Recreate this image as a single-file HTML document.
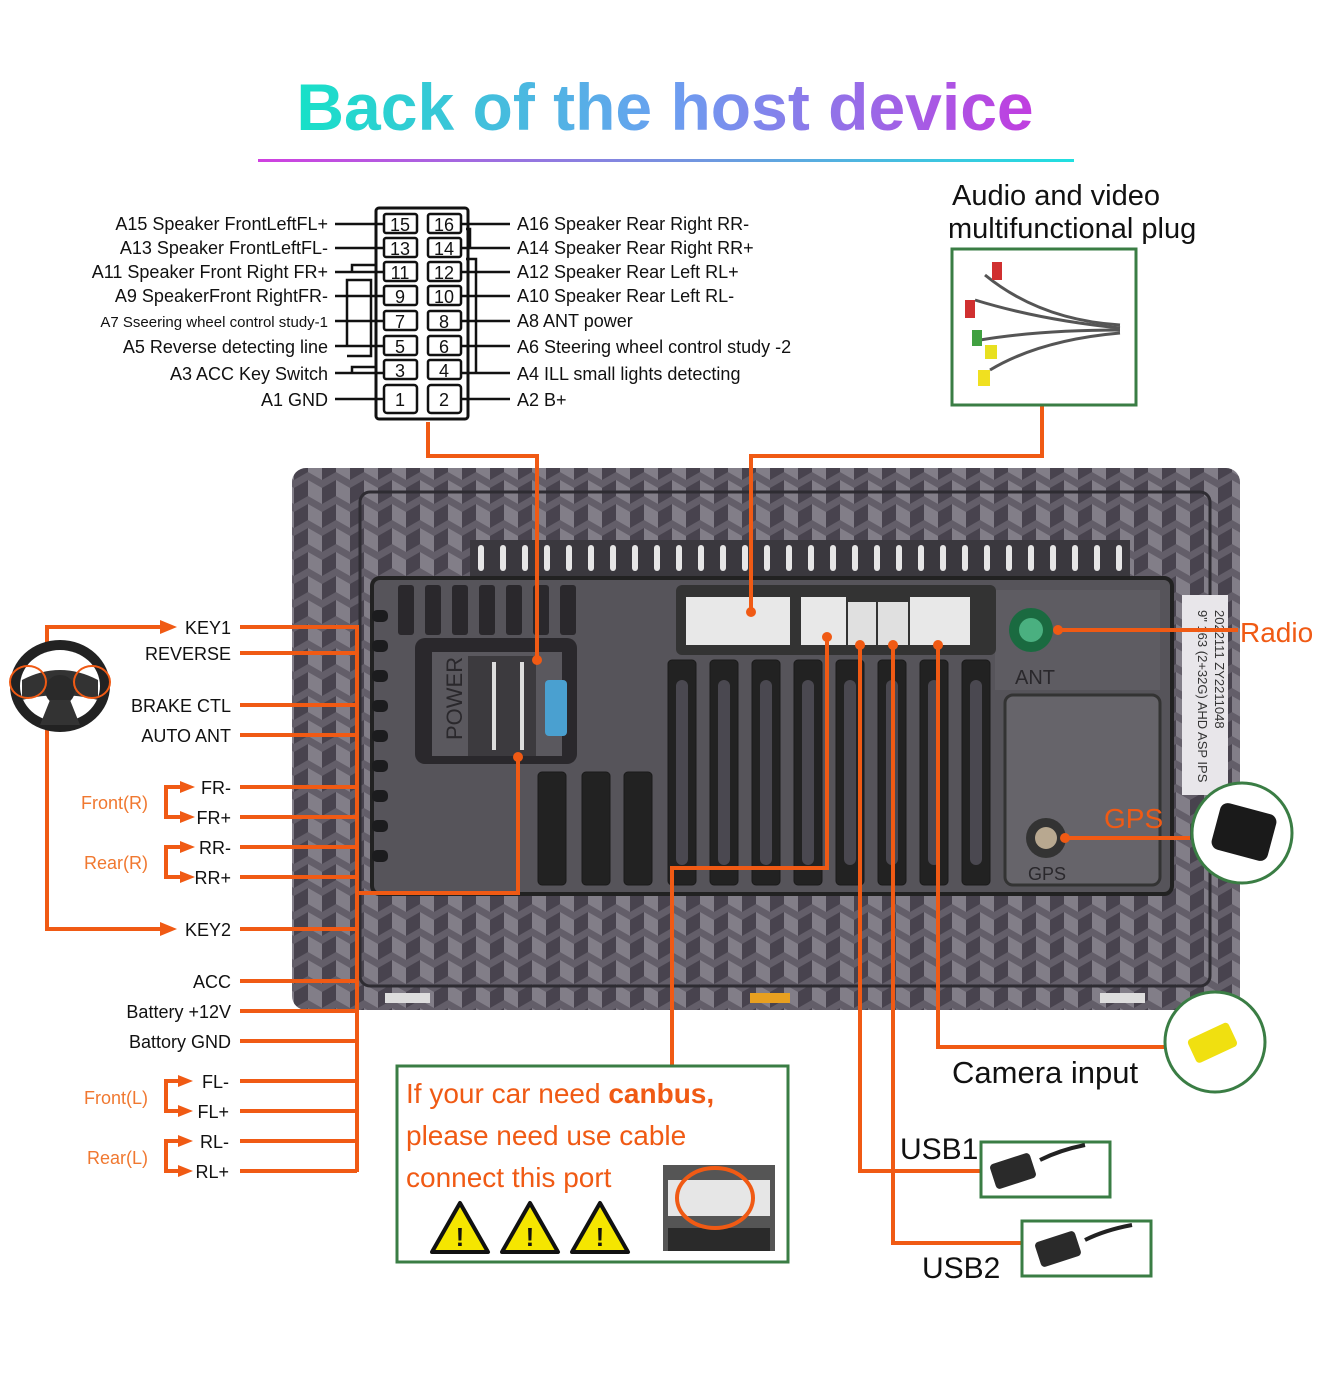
<!DOCTYPE html>
<html><head><meta charset="utf-8"><style>
html,body{margin:0;padding:0;background:#fff;}
svg{display:block;}
text{font-family:"Liberation Sans","DejaVu Sans",sans-serif;}
</style></head><body>
<svg width="1332" height="1374" viewBox="0 0 1332 1374" xmlns="http://www.w3.org/2000/svg">
<defs>
<linearGradient id="tg" x1="300" y1="0" x2="1030" y2="0" gradientUnits="userSpaceOnUse">
<stop offset="0" stop-color="#18e0c8"/><stop offset="0.5" stop-color="#6aa0f0"/><stop offset="1" stop-color="#c03ee0"/></linearGradient>
<linearGradient id="ul" x1="258" y1="0" x2="1074" y2="0" gradientUnits="userSpaceOnUse">
<stop offset="0" stop-color="#d040e0"/><stop offset="1" stop-color="#20e0e0"/></linearGradient>
<pattern id="cube" width="28" height="24" patternUnits="userSpaceOnUse">
<rect width="28" height="24" fill="#6a6670"/>
<path d="M0 0 L14 8 L14 24 L0 16Z" fill="#8f8b95"/>
<path d="M14 8 L28 0 L28 16 L14 24Z" fill="#4a4650"/>
</pattern>
</defs>

<text x="665" y="130" text-anchor="middle" font-size="66" font-weight="bold" fill="url(#tg)">Back of the host device</text>
<rect x="258" y="159" width="816" height="3" fill="url(#ul)"/>

<rect x="292" y="468" width="948" height="542" rx="14" fill="url(#cube)"/>
<rect x="292" y="468" width="948" height="542" rx="14" fill="#3a3640" opacity="0.15"/>
<rect x="360" y="492" width="850" height="494" rx="10" fill="none" stroke="#2e2c32" stroke-width="3"/>
<rect x="470" y="540" width="660" height="36" fill="#3a383e"/>
<g fill="#e6e6e6">
<rect x="478" y="545" width="6" height="26" rx="3"/><rect x="500" y="545" width="6" height="26" rx="3"/><rect x="522" y="545" width="6" height="26" rx="3"/><rect x="544" y="545" width="6" height="26" rx="3"/><rect x="566" y="545" width="6" height="26" rx="3"/><rect x="588" y="545" width="6" height="26" rx="3"/><rect x="610" y="545" width="6" height="26" rx="3"/><rect x="632" y="545" width="6" height="26" rx="3"/><rect x="654" y="545" width="6" height="26" rx="3"/><rect x="676" y="545" width="6" height="26" rx="3"/><rect x="698" y="545" width="6" height="26" rx="3"/><rect x="720" y="545" width="6" height="26" rx="3"/><rect x="742" y="545" width="6" height="26" rx="3"/><rect x="764" y="545" width="6" height="26" rx="3"/><rect x="786" y="545" width="6" height="26" rx="3"/><rect x="808" y="545" width="6" height="26" rx="3"/><rect x="830" y="545" width="6" height="26" rx="3"/><rect x="852" y="545" width="6" height="26" rx="3"/><rect x="874" y="545" width="6" height="26" rx="3"/><rect x="896" y="545" width="6" height="26" rx="3"/><rect x="918" y="545" width="6" height="26" rx="3"/><rect x="940" y="545" width="6" height="26" rx="3"/><rect x="962" y="545" width="6" height="26" rx="3"/><rect x="984" y="545" width="6" height="26" rx="3"/><rect x="1006" y="545" width="6" height="26" rx="3"/><rect x="1028" y="545" width="6" height="26" rx="3"/><rect x="1050" y="545" width="6" height="26" rx="3"/><rect x="1072" y="545" width="6" height="26" rx="3"/><rect x="1094" y="545" width="6" height="26" rx="3"/><rect x="1116" y="545" width="6" height="26" rx="3"/>
</g>
<rect x="372" y="578" width="800" height="316" rx="8" fill="#56545a" stroke="#222" stroke-width="4"/>
<rect x="995" y="590" width="165" height="100" fill="#5e5c62"/>
<rect x="1005" y="695" width="155" height="190" rx="8" fill="#66646a" stroke="#333" stroke-width="3"/>
<g fill="#1c1c1e">
<rect x="372" y="610" width="16" height="12" rx="5"/><rect x="372" y="640" width="16" height="12" rx="5"/><rect x="372" y="670" width="16" height="12" rx="5"/><rect x="372" y="700" width="16" height="12" rx="5"/><rect x="372" y="730" width="16" height="12" rx="5"/><rect x="372" y="760" width="16" height="12" rx="5"/><rect x="372" y="790" width="16" height="12" rx="5"/><rect x="372" y="820" width="16" height="12" rx="5"/><rect x="372" y="850" width="16" height="12" rx="5"/>
</g>
<g fill="#2a282c">
<rect x="398" y="585" width="16" height="50" rx="3"/><rect x="425" y="585" width="16" height="50" rx="3"/><rect x="452" y="585" width="16" height="50" rx="3"/><rect x="479" y="585" width="16" height="50" rx="3"/><rect x="506" y="585" width="16" height="50" rx="3"/><rect x="533" y="585" width="16" height="50" rx="3"/><rect x="560" y="585" width="16" height="50" rx="3"/>
</g>
<rect x="415" y="638" width="162" height="126" rx="10" fill="#2a282c"/>
<rect x="432" y="652" width="130" height="104" fill="#5a585e"/>
<text x="462" y="740" font-size="22" fill="#2a282c" transform="rotate(-90 462 740)">POWER</text>
<rect x="468" y="656" width="68" height="100" fill="#3c3a3e"/>
<g fill="#ddd"><rect x="492" y="662" width="4" height="88"/><rect x="520" y="662" width="4" height="88"/></g>
<rect x="545" y="680" width="22" height="56" rx="4" fill="#4aa0d0"/>
<rect x="676" y="585" width="320" height="70" rx="6" fill="#333"/>
<rect x="686" y="597" width="104" height="48" fill="#e8e8e8"/>
<rect x="801" y="597" width="45" height="48" fill="#e8e8e8"/>
<rect x="848" y="602" width="28" height="43" fill="#e0e0e0"/>
<rect x="878" y="602" width="30" height="43" fill="#e0e0e0"/>
<rect x="910" y="597" width="60" height="48" fill="#e8e8e8"/>
<g fill="#222" stroke="#1a1a1a">
<rect x="668" y="660" width="28" height="225" rx="4"/><rect x="710" y="660" width="28" height="225" rx="4"/><rect x="752" y="660" width="28" height="225" rx="4"/><rect x="794" y="660" width="28" height="225" rx="4"/><rect x="836" y="660" width="28" height="225" rx="4"/><rect x="878" y="660" width="28" height="225" rx="4"/><rect x="920" y="660" width="28" height="225" rx="4"/><rect x="962" y="660" width="28" height="225" rx="4"/>
<rect x="538" y="772" width="28" height="113" rx="4"/><rect x="582" y="772" width="28" height="113" rx="4"/><rect x="624" y="772" width="28" height="113" rx="4"/>
</g>
<g fill="#4a4850">
<rect x="676" y="680" width="12" height="185" rx="6"/><rect x="718" y="680" width="12" height="185" rx="6"/><rect x="760" y="680" width="12" height="185" rx="6"/><rect x="802" y="680" width="12" height="185" rx="6"/><rect x="844" y="680" width="12" height="185" rx="6"/><rect x="886" y="680" width="12" height="185" rx="6"/><rect x="928" y="680" width="12" height="185" rx="6"/><rect x="970" y="680" width="12" height="185" rx="6"/>
</g>
<circle cx="1031" cy="630" r="22" fill="#1a6a40"/><circle cx="1031" cy="630" r="12" fill="#4ab080"/>
<text x="1015" y="684" font-size="20" fill="#2a282c">ANT</text>
<circle cx="1046" cy="838" r="20" fill="#333"/><circle cx="1046" cy="838" r="11" fill="#b8a890"/>
<text x="1028" y="880" font-size="18" fill="#2a282c">GPS</text>
<rect x="1182" y="595" width="46" height="200" fill="#e8e6ea"/>
<text x="1198" y="610" font-size="13" fill="#333" transform="rotate(90 1198 610)">9" 163 (2+32G) AHD ASP IPS</text>
<text x="1215" y="610" font-size="13" fill="#333" transform="rotate(90 1215 610)">2022111   ZY2211048</text>
<g fill="#ddd"><rect x="385" y="993" width="45" height="10"/><rect x="1100" y="993" width="45" height="10"/><rect x="750" y="993" width="40" height="10" fill="#e8a020"/></g>

<g stroke="#f05a14" stroke-width="4" fill="none">
<polyline points="428,422 428,456 537,456 537,660"/>
<polyline points="1042,406 1042,456 751,456 751,612"/>
<line x1="357" y1="625" x2="357" y2="1172"/>
<line x1="240" y1="627" x2="357" y2="627"/>
<line x1="240" y1="653" x2="357" y2="653"/>
<line x1="240" y1="705" x2="357" y2="705"/>
<line x1="240" y1="735" x2="357" y2="735"/>
<line x1="240" y1="787" x2="357" y2="787"/>
<line x1="240" y1="817" x2="357" y2="817"/>
<line x1="240" y1="847" x2="357" y2="847"/>
<line x1="240" y1="877" x2="357" y2="877"/>
<line x1="240" y1="929" x2="357" y2="929"/>
<line x1="240" y1="981" x2="357" y2="981"/>
<line x1="240" y1="1011" x2="357" y2="1011"/>
<line x1="240" y1="1041" x2="357" y2="1041"/>
<line x1="240" y1="1081" x2="357" y2="1081"/>
<line x1="240" y1="1111" x2="357" y2="1111"/>
<line x1="240" y1="1141" x2="357" y2="1141"/>
<line x1="240" y1="1171" x2="357" y2="1171"/>
<polyline points="357,893 518,893 518,757"/>
<polyline points="672,1066 672,868 827,868 827,637"/>
<polyline points="860,645 860,1171 980,1171"/>
<polyline points="893,645 893,1243 1022,1243"/>
<polyline points="938,645 938,1047 1165,1047"/>
<line x1="1058" y1="630" x2="1238" y2="630"/>
<line x1="1065" y1="838" x2="1190" y2="838"/>
<polyline points="47,660 47,627 165,627"/>
<polyline points="47,718 47,929 165,929"/>
<polyline points="182,787 166,787 166,817 182,817"/>
<polyline points="182,847 166,847 166,877 182,877"/>
<polyline points="180,1081 166,1081 166,1111 180,1111"/>
<polyline points="180,1141 166,1141 166,1171 180,1171"/>
</g>
<g fill="#f05a14">
<circle cx="537" cy="660" r="5"/><circle cx="751" cy="612" r="5"/><circle cx="518" cy="757" r="5"/>
<circle cx="827" cy="637" r="5"/><circle cx="860" cy="645" r="5"/><circle cx="893" cy="645" r="5"/><circle cx="938" cy="645" r="5"/>
<circle cx="1058" cy="630" r="5"/><circle cx="1065" cy="838" r="5"/>
<path d="M160 620 L177 627 L160 634Z"/><path d="M160 922 L177 929 L160 936Z"/>
<path d="M180 781 L195 787 L180 793Z"/><path d="M180 811 L195 817 L180 823Z"/>
<path d="M180 841 L195 847 L180 853Z"/><path d="M180 871 L195 877 L180 883Z"/>
<path d="M178 1075 L193 1081 L178 1087Z"/><path d="M178 1105 L193 1111 L178 1117Z"/>
<path d="M178 1135 L193 1141 L178 1147Z"/><path d="M178 1165 L193 1171 L178 1177Z"/>
</g>

<ellipse cx="60" cy="686" rx="50" ry="46" fill="#222"/>
<ellipse cx="60" cy="686" rx="40" ry="36" fill="#fff"/>
<path d="M22 680 Q60 660 98 680 L98 700 Q60 690 22 700Z" fill="#333"/>
<circle cx="60" cy="690" r="15" fill="#2a2a2a"/>
<path d="M50 700 L40 725 L80 725 L70 700Z" fill="#333"/>
<ellipse cx="28" cy="682" rx="18" ry="16" fill="none" stroke="#f05a14" stroke-width="2"/>
<ellipse cx="92" cy="682" rx="18" ry="16" fill="none" stroke="#f05a14" stroke-width="2"/>

<g font-size="18" fill="#111" text-anchor="end">
<text x="231" y="634">KEY1</text><text x="231" y="660">REVERSE</text>
<text x="231" y="712">BRAKE CTL</text><text x="231" y="742">AUTO ANT</text>
<text x="231" y="794">FR-</text><text x="231" y="824">FR+</text>
<text x="231" y="854">RR-</text><text x="231" y="884">RR+</text>
<text x="231" y="936">KEY2</text><text x="231" y="988">ACC</text>
<text x="231" y="1018">Battery +12V</text><text x="231" y="1048">Battory GND</text>
<text x="229" y="1088">FL-</text><text x="229" y="1118">FL+</text>
<text x="229" y="1148">RL-</text><text x="229" y="1178">RL+</text>
</g>
<g font-size="18" fill="#f07830" text-anchor="end">
<text x="148" y="809">Front(R)</text><text x="148" y="869">Rear(R)</text>
<text x="148" y="1104">Front(L)</text><text x="148" y="1164">Rear(L)</text>
</g>

<rect x="376" y="208" width="92" height="211" rx="3" fill="#fff" stroke="#111" stroke-width="3"/>
<g stroke="#111" stroke-width="2.5" fill="#fff">
<rect x="384" y="214" width="33" height="19" rx="2"/><rect x="428" y="214" width="33" height="19" rx="2"/>
<rect x="384" y="238" width="33" height="19" rx="2"/><rect x="428" y="238" width="33" height="19" rx="2"/>
<rect x="384" y="262" width="33" height="19" rx="2"/><rect x="428" y="262" width="33" height="19" rx="2"/>
<rect x="384" y="286" width="33" height="19" rx="2"/><rect x="428" y="286" width="33" height="19" rx="2"/>
<rect x="384" y="311" width="33" height="19" rx="2"/><rect x="428" y="311" width="33" height="19" rx="2"/>
<rect x="384" y="336" width="33" height="19" rx="2"/><rect x="428" y="336" width="33" height="19" rx="2"/>
<rect x="384" y="360" width="33" height="19" rx="2"/><rect x="428" y="360" width="33" height="19" rx="2"/>
<rect x="384" y="385" width="33" height="28" rx="3"/><rect x="428" y="385" width="33" height="28" rx="3"/>
</g>
<g font-size="18" fill="#111" text-anchor="middle">
<text x="400" y="231">15</text><text x="444" y="231">16</text>
<text x="400" y="255">13</text><text x="444" y="255">14</text>
<text x="400" y="279">11</text><text x="444" y="279">12</text>
<text x="400" y="303">9</text><text x="444" y="303">10</text>
<text x="400" y="328">7</text><text x="444" y="328">8</text>
<text x="400" y="353">5</text><text x="444" y="353">6</text>
<text x="400" y="377">3</text><text x="444" y="377">4</text>
<text x="400" y="406">1</text><text x="444" y="406">2</text>
</g>
<g stroke="#111" stroke-width="2.5" fill="none">
<line x1="335" y1="224" x2="384" y2="224"/><line x1="335" y1="248" x2="384" y2="248"/>
<line x1="335" y1="272" x2="384" y2="272"/><line x1="335" y1="296" x2="384" y2="296"/>
<line x1="335" y1="321" x2="384" y2="321"/><line x1="335" y1="346" x2="384" y2="346"/>
<line x1="335" y1="373" x2="384" y2="373"/><line x1="335" y1="399" x2="384" y2="399"/>
<line x1="461" y1="224" x2="510" y2="224"/><line x1="461" y1="248" x2="510" y2="248"/>
<line x1="461" y1="272" x2="510" y2="272"/><line x1="461" y1="296" x2="510" y2="296"/>
<line x1="461" y1="321" x2="510" y2="321"/><line x1="461" y1="346" x2="510" y2="346"/>
<line x1="461" y1="373" x2="510" y2="373"/><line x1="461" y1="399" x2="510" y2="399"/>
<polyline points="352,272 352,265 376,265"/>
<polyline points="347,346 347,280 371,280 371,356 347,356"/>
<polyline points="352,373 352,367 376,367"/>
<polyline points="466,229 470,229 470,248"/>
<polyline points="466,259 476,259 476,373"/>
</g>
<g font-size="18" fill="#111">
<text x="328" y="230" text-anchor="end">A15 Speaker FrontLeftFL+</text>
<text x="328" y="254" text-anchor="end">A13 Speaker FrontLeftFL-</text>
<text x="328" y="278" text-anchor="end">A11 Speaker Front Right FR+</text>
<text x="328" y="302" text-anchor="end">A9  SpeakerFront RightFR-</text>
<text x="328" y="327" text-anchor="end" font-size="15">A7   Sseering wheel control study-1</text>
<text x="328" y="353" text-anchor="end">A5   Reverse detecting line</text>
<text x="328" y="380" text-anchor="end">A3 ACC Key Switch</text>
<text x="328" y="406" text-anchor="end">A1 GND</text>
<text x="517" y="230">A16 Speaker Rear Right RR-</text>
<text x="517" y="254">A14 Speaker Rear Right RR+</text>
<text x="517" y="278">A12 Speaker Rear Left RL+</text>
<text x="517" y="302">A10 Speaker Rear Left RL-</text>
<text x="517" y="327">A8  ANT power</text>
<text x="517" y="353">A6  Steering wheel control study -2</text>
<text x="517" y="380">A4  ILL small lights detecting</text>
<text x="517" y="406">A2  B+</text>
</g>

<text x="952" y="205" font-size="29" fill="#111">Audio and video</text>
<text x="948" y="238" font-size="29" fill="#111">multifunctional plug</text>
<rect x="952" y="249" width="184" height="156" fill="#fff" stroke="#3a7d44" stroke-width="3"/>
<g stroke="#555" stroke-width="3" fill="none">
<path d="M985 275 Q1040 320 1120 325"/><path d="M975 300 Q1040 320 1120 328"/><path d="M980 340 Q1040 330 1120 330"/><path d="M990 370 Q1040 340 1120 333"/>
</g>
<g><rect x="992" y="262" width="10" height="18" fill="#d03030"/><rect x="965" y="300" width="10" height="18" fill="#d03030"/><rect x="972" y="330" width="10" height="16" fill="#40a040"/><rect x="985" y="345" width="12" height="14" fill="#e8e020"/><rect x="978" y="370" width="12" height="16" fill="#f0e020"/></g>

<text x="1240" y="642" font-size="28" fill="#f05a14">Radio</text>
<text x="1104" y="828" font-size="28" fill="#f05a14">GPS</text>
<circle cx="1242" cy="833" r="50" fill="#fff" stroke="#3a7d44" stroke-width="3"/>
<rect x="1215" y="808" width="58" height="48" rx="8" fill="#1a1a1a" transform="rotate(15 1244 832)"/>
<circle cx="1215" cy="1042" r="50" fill="#fff" stroke="#3a7d44" stroke-width="3"/>
<rect x="1190" y="1030" width="45" height="26" rx="4" fill="#f0e010" transform="rotate(-25 1212 1043)"/>
<text x="952" y="1083" font-size="31" fill="#111">Camera input</text>

<text x="900" y="1159" font-size="30" fill="#111">USB1</text>
<rect x="981" y="1142" width="129" height="55" fill="#fff" stroke="#3a7d44" stroke-width="3"/>
<rect x="992" y="1158" width="42" height="26" rx="4" fill="#2a2a2a" transform="rotate(-18 1013 1171)"/>
<path d="M1040 1160 Q1060 1150 1085 1145" stroke="#222" stroke-width="4" fill="none"/>
<text x="922" y="1278" font-size="30" fill="#111">USB2</text>
<rect x="1022" y="1221" width="129" height="55" fill="#fff" stroke="#3a7d44" stroke-width="3"/>
<rect x="1037" y="1236" width="42" height="26" rx="4" fill="#2a2a2a" transform="rotate(-18 1058 1249)"/>
<path d="M1085 1240 Q1105 1230 1132 1225" stroke="#222" stroke-width="4" fill="none"/>

<rect x="397" y="1066" width="391" height="196" fill="#fff" stroke="#3a7d44" stroke-width="3"/>
<g font-size="28" fill="#f05a14">
<text x="406" y="1103">If your car need <tspan font-weight="bold">canbus,</tspan></text>
<text x="406" y="1145">please need use cable</text>
<text x="406" y="1187">connect this port</text>
</g>
<g>
<path d="M460 1203 L488 1252 L432 1252Z" fill="#f5e600" stroke="#111" stroke-width="4" stroke-linejoin="round"/>
<path d="M530 1203 L558 1252 L502 1252Z" fill="#f5e600" stroke="#111" stroke-width="4" stroke-linejoin="round"/>
<path d="M600 1203 L628 1252 L572 1252Z" fill="#f5e600" stroke="#111" stroke-width="4" stroke-linejoin="round"/>
<g font-size="26" font-weight="bold" fill="#111" text-anchor="middle"><text x="460" y="1246">!</text><text x="530" y="1246">!</text><text x="600" y="1246">!</text></g>
</g>
<rect x="663" y="1165" width="112" height="86" fill="#555"/>
<rect x="668" y="1180" width="102" height="36" fill="#e6e6e6"/>
<rect x="668" y="1228" width="102" height="23" fill="#2a2a2a"/>
<ellipse cx="715" cy="1198" rx="38" ry="30" fill="none" stroke="#f05a14" stroke-width="4"/>
</svg>
</body></html>
